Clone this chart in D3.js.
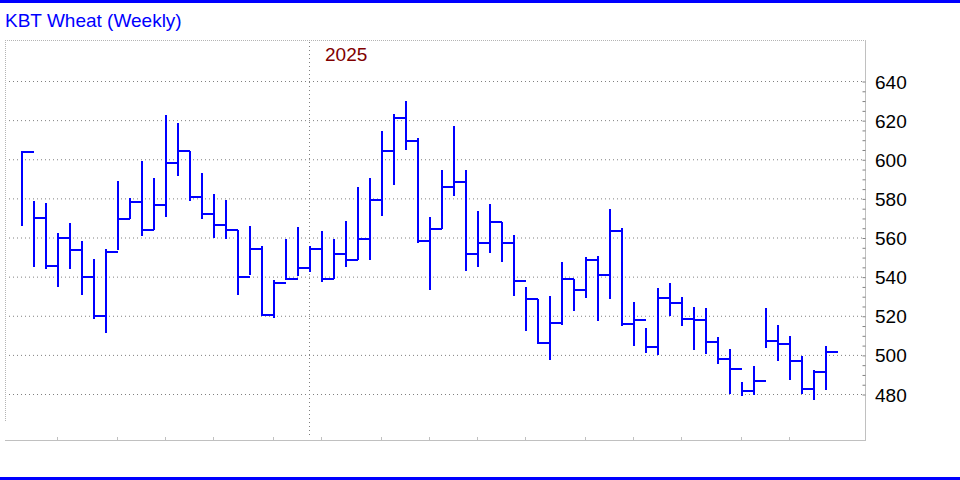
<!DOCTYPE html>
<html>
<head>
<meta charset="utf-8">
<script src="https://cdn.jsdelivr.net/npm/d3@7"></script>
<style>
  body { margin: 0; background: #fff; }
  svg { display: block; }
  text { font-family: "Liberation Sans", Arial, sans-serif; }
</style>
</head>
<body>
<script>

WIDTH = 960;
HEIGHT = 480;
FRAME = ({top: 40, right: 865, bottom: 440, left: 5});
COLOR = "#0000ff";

var TITLE = "KBT Wheat (Weekly)";
var YEAR_LABEL = "2025";

// weekly bars, oldest first (cents/bushel)
var highs = [604.5, 579, 578, 562.75, 567.5, 558.5, 549.5, 554.5, 589.25, 580.5,
    599.5, 590.5, 623, 619, 604.5, 593, 582.5, 579.5, 564, 566,
    556, 538.75, 559.25, 565.75, 556, 563.5, 559.25, 568.5, 586, 590.5,
    614.5, 623.5, 630.25, 611, 570.5, 595, 617, 595, 574, 577.25,
    568, 561.75, 534.75, 528.75, 530.25, 547.5, 539, 550.5, 551, 575,
    565.25, 527.5, 513.75, 534.25, 537.25, 529.75, 524.5, 524, 509.25, 503.5,
    486.25, 494.5, 524, 515.5, 510, 499.5, 492.75, 504.75];
var lows = [566, 545, 544.25, 534.75, 544.25, 530.75, 518.75, 511.5, 553.75, 569.5,
    561, 564, 570.75, 591.5, 579, 569.75, 559.75, 559.5, 531, 541,
    520, 519.25, 539, 540.75, 542.5, 537.5, 539, 545, 548.5, 548.75,
    571.25, 587, 605, 557.5, 533.5, 564.5, 581.5, 543, 545, 552.25,
    547.75, 530.25, 512.5, 506.25, 497.75, 515.5, 522.75, 529.25, 517.75, 529,
    515, 505, 501.25, 500.25, 520, 515, 502.75, 500.75, 495.75, 480.25,
    479.25, 480, 503.75, 497.25, 487.5, 480.5, 477, 482.25];
var closes = [604, 570, 545.5, 560, 553.75, 540, 520.25, 552.75, 569.5, 578.5,
    564, 577, 598.25, 604.5, 581, 572.25, 566.5, 564, 540, 554.5,
    520.75, 537.25, 539, 544.75, 554.5, 539, 551.75, 548.75, 559.5, 579.5,
    604.5, 621.25, 609.5, 558.5, 564.5, 586, 588.5, 551.75, 557.5, 568,
    557.5, 538, 528.75, 506.25, 516.5, 539, 533.5, 549, 541, 563.5,
    516, 518, 504.25, 529.25, 526.75, 518.5, 518, 506.75, 498, 493,
    481.75, 487, 507.5, 505.75, 497, 483, 491.5, 501.75];

// week index of each month start tick, and of the first week of 2025
var monthWeeks = [3, 8, 12, 16, 21, 25, 30, 34, 38, 42, 47, 51, 55, 60, 64];
var yearWeek = 24;

var yTicks = [480, 500, 520, 540, 560, 580, 600, 620, 640];
var yMinor = d3.range(480, 641, 5);

var svg = d3.select("body").append("svg")
    .attr("width", WIDTH)
    .attr("height", HEIGHT);

var x = d3.scaleLinear()
    .domain([0, highs.length - 1])
    .range([22, 22 + 12 * (highs.length - 1)]);

var y = d3.scaleLinear()
    .domain([480, 640])
    .range([394.5, 81.5]);

// blue rules top and bottom
svg.append("rect").attr("x", 0).attr("y", 0).attr("width", WIDTH).attr("height", 3).attr("fill", COLOR);
svg.append("rect").attr("x", 0).attr("y", 477).attr("width", WIDTH).attr("height", 3).attr("fill", COLOR);

svg.append("text")
    .attr("x", 5)
    .attr("y", 27)
    .attr("font-size", "19px")
    .attr("fill", COLOR)
    .text(TITLE);

// frame
svg.append("line")
    .attr("x1", FRAME.left).attr("x2", FRAME.right)
    .attr("y1", FRAME.top + 0.5).attr("y2", FRAME.top + 0.5)
    .attr("stroke", "#b4b4b4").attr("stroke-dasharray", "1,1");
svg.append("line")
    .attr("x1", FRAME.left + 0.5).attr("x2", FRAME.left + 0.5)
    .attr("y1", FRAME.top).attr("y2", 421)
    .attr("stroke", "#b4b4b4").attr("stroke-dasharray", "1,1");
svg.append("line")
    .attr("x1", FRAME.left).attr("x2", FRAME.right + 1)
    .attr("y1", FRAME.bottom + 0.5).attr("y2", FRAME.bottom + 0.5)
    .attr("stroke", "#c0c0c0");
svg.append("line")
    .attr("x1", FRAME.right + 0.5).attr("x2", FRAME.right + 0.5)
    .attr("y1", FRAME.top).attr("y2", FRAME.bottom)
    .attr("stroke", "#c0c0c0");

// horizontal grid
svg.append("g")
    .selectAll("line")
    .data(yTicks)
    .enter().append("line")
      .attr("x1", 9).attr("x2", 862)
      .attr("y1", d => y(d)).attr("y2", d => y(d))
      .attr("stroke", "#808080")
      .attr("stroke-dasharray", "1,3");

// year separator
svg.append("line")
    .attr("x1", x(yearWeek) - 0.5).attr("x2", x(yearWeek) - 0.5)
    .attr("y1", 42).attr("y2", 437)
    .attr("stroke", "#808080")
    .attr("stroke-dasharray", "1,3");

svg.append("text")
    .attr("x", x(yearWeek) + 15)
    .attr("y", 60.5)
    .attr("font-size", "19px")
    .attr("fill", "#800000")
    .text(YEAR_LABEL);

// month ticks along the bottom
svg.append("g")
    .selectAll("line")
    .data(monthWeeks)
    .enter().append("line")
      .attr("x1", d => x(d) - 0.5).attr("x2", d => x(d) - 0.5)
      .attr("y1", FRAME.bottom - 3).attr("y2", FRAME.bottom)
      .attr("stroke", "#c0c0c0");

// right axis
var yAxis = g => g
    .attr("transform", `translate(${FRAME.right + 0.5},0)`)
    .call(d3.axisLeft(y).tickValues(yMinor).tickSize(3).tickFormat(""))
    .call(g => g.select(".domain").remove())
    .call(g => g.selectAll(".tick line").attr("stroke", "#808080"));

svg.append("g")
    .call(yAxis);

svg.append("g")
    .selectAll("text")
    .data(yTicks)
    .enter().append("text")
      .attr("x", 875)
      .attr("y", d => y(d) + 7)
      .attr("font-size", "19px")
      .attr("fill", "#000")
      .text(d => d);

// HLC bars
svg.append("g")
    .selectAll("path")
    .data(highs)
    .enter().append("path")
      .attr("d", (d, i) =>
          "M" + x(i) + "," + y(highs[i]) + "V" + y(lows[i]) +
          "M" + (x(i) - 1) + "," + y(closes[i]) + "H" + (x(i) + 12))
      .attr("fill", "none")
      .attr("stroke", COLOR)
      .attr("stroke-width", 2)
      .attr("shape-rendering", "crispEdges");

</script>
</body>
</html>
